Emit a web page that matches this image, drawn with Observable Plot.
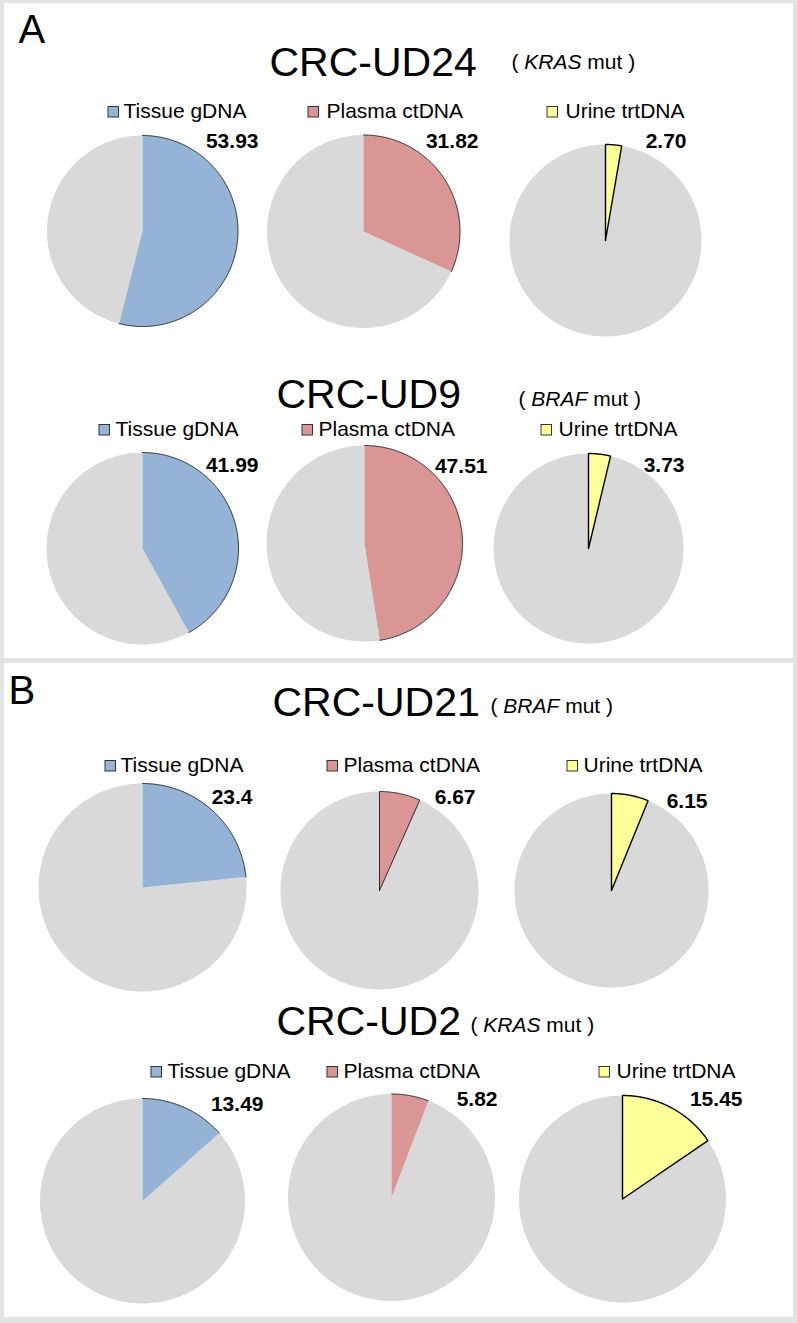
<!DOCTYPE html>
<html><head><meta charset="utf-8">
<script src="https://cdn.jsdelivr.net/npm/d3@7"></script>
<script src="https://cdn.jsdelivr.net/npm/@observablehq/plot@0.6"></script>
<style>
html,body{margin:0;padding:0;background:#e3e3e3;}
#chart svg{display:block}
</style></head><body><div id="chart"></div>
<script>
// ---------- data ----------
const cases = ["CRC-UD24", "CRC-UD9", "CRC-UD21", "CRC-UD2"];
const genes = ["KRAS", "BRAF", "BRAF", "KRAS"];
const panelLetters = ["A", "B"];
const sources = ["Tissue gDNA", "Plasma ctDNA", "Urine trtDNA"];
const tissueValues = [53.93, 41.99, 23.4, 13.49];
const plasmaValues = [31.82, 47.51, 6.67, 5.82];
const urineValues = [2.70, 3.73, 6.15, 15.45];
const tissueLabels = ["53.93", "41.99", "23.4", "13.49"];
const plasmaLabels = ["31.82", "47.51", "6.67", "5.82"];
const urineLabels = ["2.70", "3.73", "6.15", "15.45"];

// ---------- layout & style ----------
const W = 797, H = 1323;
const FONT = '"Liberation Sans", Arial, sans-serif';
const FS = {panel: 40, title: 41, gene: 21, legend: 21, value: 21};
const sourceColors = ["#95b3d7", "#d99694", "#ffff99"];
const GRAY = "#d9d9d9";
const panelsLayout = [
  {x0: 4, y0: 3, x1: 793, y1: 658, lx: 18, lb: 42},
  {x0: 4, y0: 663, x1: 793, y1: 1317, lx: 8, lb: 703}
];
const rowsLayout = [
  {title: {x: 269, b: 75}, gene: {x: 511, b: 68},
   pies: [{cx: 142, cy: 230.5, r: 95.5, o: "arc"}, {cx: 363, cy: 231, r: 96.5, o: "arc"}, {cx: 605, cy: 240, r: 96, o: "full"}],
   legend: [{sx: 108, tx: 123, b: 117}, {sx: 308, tx: 326, b: 117}, {sx: 547, tx: 565, b: 117}],
   value: [{x: 258, b: 147}, {x: 478, b: 147}, {x: 686, b: 147}]},
  {title: {x: 276, b: 407}, gene: {x: 518, b: 405},
   pies: [{cx: 142, cy: 548, r: 96, o: "arc"}, {cx: 364, cy: 543, r: 98, o: "arc"}, {cx: 588, cy: 548, r: 95, o: "full"}],
   legend: [{sx: 99, tx: 115, b: 435}, {sx: 302, tx: 318, b: 435}, {sx: 541, tx: 558, b: 435}],
   value: [{x: 258, b: 471}, {x: 487, b: 472}, {x: 684, b: 471}]},
  {title: {x: 272, b: 715}, gene: {x: 490, b: 712},
   pies: [{cx: 142, cy: 887, r: 104, o: "arc"}, {cx: 379, cy: 890, r: 99, o: "thin"}, {cx: 611, cy: 890, r: 97, o: "full"}],
   legend: [{sx: 105, tx: 120, b: 771}, {sx: 327, tx: 343, b: 771}, {sx: 567, tx: 583, b: 771}],
   value: [{x: 252, b: 803}, {x: 475, b: 803}, {x: 707, b: 807}]},
  {title: {x: 276, b: 1034}, gene: {x: 470, b: 1031},
   pies: [{cx: 142, cy: 1200.5, r: 102.5, o: "arc"}, {cx: 391, cy: 1197, r: 103.5, o: "arc"}, {cx: 622, cy: 1198.5, r: 103.5, o: "full"}],
   legend: [{sx: 151, tx: 167, b: 1077}, {sx: 327, tx: 343, b: 1077}, {sx: 599, tx: 616, b: 1077}],
   value: [{x: 263, b: 1110}, {x: 497, b: 1105}, {x: 742, b: 1105}]}
];

// ---------- helpers ----------
const ctx = document.createElement("canvas").getContext("2d");
function tw(s, fs, style = "normal", weight = "normal") {
  ctx.font = `${style} ${weight} ${fs}px "Liberation Sans"`;
  return ctx.measureText(s).width;
}
function arcPts(cx, cy, r, a0, a1) {
  const pts = [];
  const n = Math.max(2, Math.ceil(Math.abs(a1 - a0) / 0.5));
  for (let k = 0; k <= n; k++) {
    const a = (a0 + (a1 - a0) * k / n) * Math.PI / 180;
    pts.push({x: cx + r * Math.sin(a), y: cy - r * Math.cos(a)});
  }
  return pts;
}
function slice(cx, cy, r, a0, a1) {
  return [{x: cx, y: cy}, ...arcPts(cx, cy, r, a0, a1), {x: cx, y: cy}];
}
const mid = (b, fs) => b - 0.32 * fs;

// ---------- marks ----------
const marks = [];
marks.push(Plot.rect(panelsLayout, {x1: "x0", x2: "x1", y1: "y0", y2: "y1", fill: "white"}));
marks.push(Plot.text(panelsLayout.map((p, i) => ({x: p.lx, y: mid(p.lb, FS.panel), t: panelLetters[i]})),
  {x: "x", y: "y", text: "t", fontSize: FS.panel, textAnchor: "start", lineAnchor: "middle", fill: "black"}));

const titleTexts = [], geneA = [], geneB = [], geneC = [], legendTexts = [], legendBoxes = [], valueTexts = [];
rowsLayout.forEach((L, i) => {
  const vals = [tissueValues[i], plasmaValues[i], urineValues[i]];
  const labs = [tissueLabels[i], plasmaLabels[i], urineLabels[i]];
  titleTexts.push({x: L.title.x, y: mid(L.title.b, FS.title), t: cases[i]});
  const w1 = tw("( ", FS.gene), w2 = tw(genes[i], FS.gene, "italic");
  geneA.push({x: L.gene.x, y: mid(L.gene.b, FS.gene), t: "("});
  geneB.push({x: L.gene.x + w1, y: mid(L.gene.b, FS.gene), t: genes[i]});
  geneC.push({x: L.gene.x + w1 + w2, y: mid(L.gene.b, FS.gene), t: "\u00a0mut )"});
  L.pies.forEach((p, j) => {
    const a = vals[j] / 100 * 360;
    marks.push(Plot.line(slice(p.cx, p.cy, p.r, a, 360), {x: "x", y: "y", fill: GRAY, stroke: "none"}));
    marks.push(Plot.line(slice(p.cx, p.cy, p.r, 0, a), {x: "x", y: "y", fill: sourceColors[j], stroke: "none"}));
    if (p.o === "arc") {
      marks.push(Plot.line(arcPts(p.cx, p.cy, p.r, 0, a), {x: "x", y: "y", stroke: "#1a1a1a", strokeWidth: 0.9}));
    } else {
      marks.push(Plot.line(slice(p.cx, p.cy, p.r, 0, a), {x: "x", y: "y",
        stroke: p.o === "full" ? "#000" : "#1a1a1a", strokeWidth: p.o === "full" ? 1.4 : 0.9, strokeLinejoin: "miter"}));
    }
    const lg = L.legend[j];
    legendBoxes.push({x1: lg.sx, x2: lg.sx + 10.5, y1: lg.b - 10.5, y2: lg.b, c: sourceColors[j]});
    legendTexts.push({x: lg.tx, y: mid(lg.b, FS.legend), t: sources[j]});
    valueTexts.push({x: L.value[j].x, y: mid(L.value[j].b, FS.value), t: labs[j]});
  });
});

marks.push(Plot.text(titleTexts, {x: "x", y: "y", text: "t", fontSize: FS.title, textAnchor: "start", lineAnchor: "middle", fill: "black"}));
marks.push(Plot.text(geneA, {x: "x", y: "y", text: "t", fontSize: FS.gene, textAnchor: "start", lineAnchor: "middle", fill: "black"}));
marks.push(Plot.text(geneB, {x: "x", y: "y", text: "t", fontSize: FS.gene, fontStyle: "italic", textAnchor: "start", lineAnchor: "middle", fill: "black"}));
marks.push(Plot.text(geneC, {x: "x", y: "y", text: "t", fontSize: FS.gene, textAnchor: "start", lineAnchor: "middle", fill: "black"}));
marks.push(Plot.rect(legendBoxes, {x1: "x1", x2: "x2", y1: "y1", y2: "y2", fill: "c", stroke: "#333", strokeWidth: 1}));
marks.push(Plot.text(legendTexts, {x: "x", y: "y", text: "t", fontSize: FS.legend, textAnchor: "start", lineAnchor: "middle", fill: "black"}));
marks.push(Plot.text(valueTexts, {x: "x", y: "y", text: "t", fontSize: FS.value, fontWeight: "bold", textAnchor: "end", lineAnchor: "middle", fill: "black"}));

const chart = Plot.plot({
  width: W, height: H, margin: 0,
  style: {fontFamily: FONT, background: "#e3e3e3", overflow: "visible"},
  x: {domain: [0, W], range: [0, W], axis: null},
  y: {domain: [0, H], range: [0, H], axis: null},
  color: {type: "identity"},
  marks
});
document.getElementById("chart").appendChild(chart);
</script></body></html>
